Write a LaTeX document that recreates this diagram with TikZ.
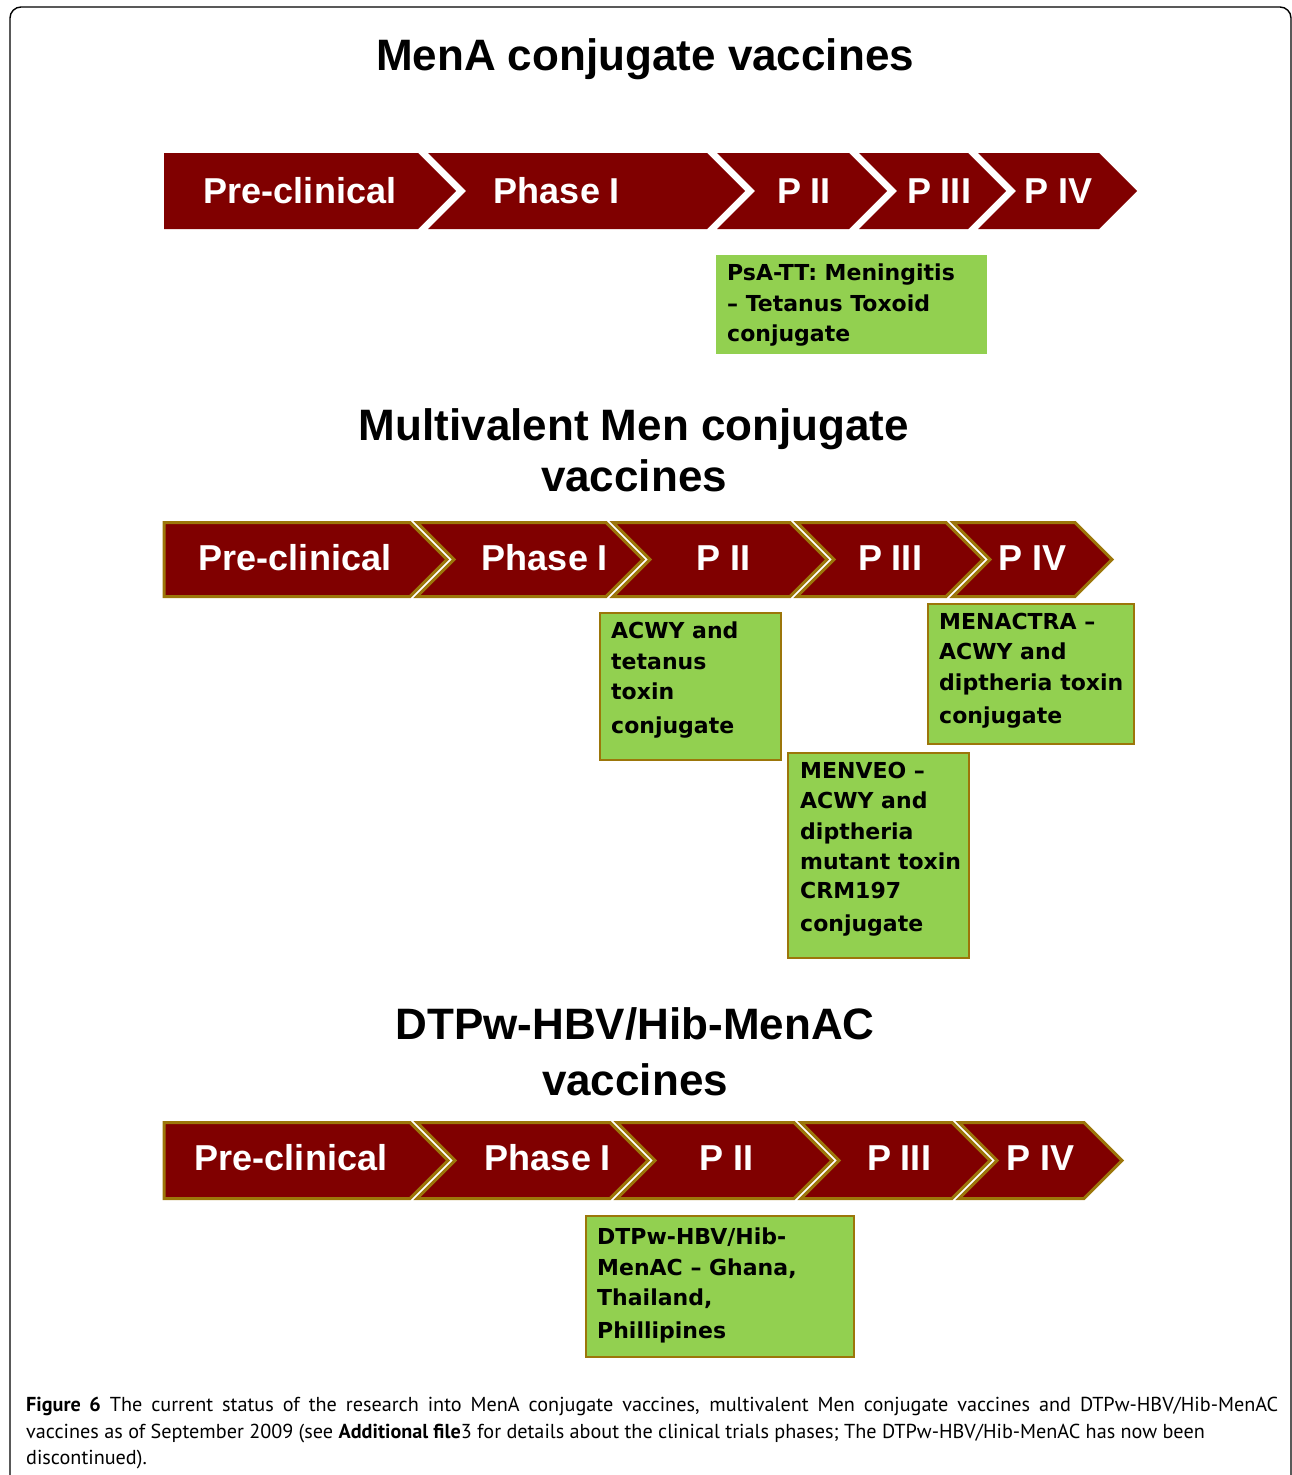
\documentclass[tikz,border=0pt]{standalone}
\usepackage{fontspec}
\usepackage{tikz}
\usetikzlibrary{positioning}
\newfontfamily\headfont{Liberation Sans}
\newfontfamily\boxfont{DejaVu Sans}
\newfontfamily\capfont{PT Sans}
\definecolor{phasered}{RGB}{128,0,0}
\definecolor{phasegold}{RGB}{156,118,10}
\definecolor{trialgreen}{RGB}{146,208,80}

\begin{document}
\begin{tikzpicture}[x=1pt,y=-1pt,
  phase/.style={fill=phasered},
  phaserim/.style={fill=phasered,draw=phasegold,line width=3pt},
  phaselbl/.style={text=white,font=\headfont\bfseries\fontsize{36}{40}\selectfont,inner sep=0pt},
  heading/.style={font=\headfont\bfseries\fontsize{44}{51}\selectfont,align=center,inner sep=0pt},
  trial/.style={fill=trialgreen,draw=phasegold,line width=1.5pt,anchor=north west,inner sep=0pt},
  trialtxt/.style={font=\boxfont\bfseries\fontsize{22}{30.5}\selectfont,align=left,inner sep=0pt}]
  \useasboundingbox (0,0) rectangle (1292,1475);
  \draw[line width=1.4pt,rounded corners=11pt] (10,1490) -- (10,7) -- (1291,7) -- (1291,1490);

  % MenA
  \node[heading] (mena) at (645,59) {MenA conjugate vaccines};
  \foreach \lft/\rgt/\nd/\lbl/\cx [count=\i] in {164/418/0/Pre-clinical/300, 428/707/38/Phase I/557,
      717/849/38/P II/804, 859/968/38/P III/939, 978/1099/38/P IV/1059}{
    \fill[phase] (\lft,153) -- (\rgt,153) -- (\rgt+38,191) -- (\rgt,229) -- (\lft,229) -- (\lft+\nd,191) -- cycle;
    \node[phaselbl] (mena\i) at (\cx,191) {\lbl};
  }
  \node[trial,draw=none,minimum width=271pt,minimum height=99pt] (psatt) at (715,254) {};
  \node[trialtxt,right=12pt of psatt.west,yshift=-1pt] (psatt-t) {PsA-TT: Meningitis\\– Tetanus Toxoid\\conjugate};

  % multivalent
  \node[heading] (multi) at (634,450) {Multivalent Men conjugate\\vaccines};
  \foreach \lft/\rgt/\nd/\lbl/\cx [count=\i] in {164/410/0/Pre-clinical/295, 417/606/37/Phase I/545,
      613/790/37/P II/724, 797/946/37/P III/890, 953/1075/37/P IV/1033}{
    \draw[phaserim] (\lft,522.5) -- (\rgt,522.5) -- (\rgt+37,559.5) -- (\rgt,596.5) -- (\lft,596.5) -- (\lft+\nd,559.5) -- cycle;
    \node[phaselbl] (multi\i) at (\cx,558) {\lbl};
  }
  \node[trial,minimum width=181pt,minimum height=147pt] (acwytt) at (599,612) {};
  \node[trialtxt,right=12pt of acwytt.west,yshift=6pt] (acwytt-t) {ACWY and\\tetanus\\toxin\\[3pt]conjugate};
  \node[trial,minimum width=206pt,minimum height=140pt] (menactra) at (927,603) {};
  \node[trialtxt,right=12pt of menactra.west,yshift=3pt] (menactra-t) {MENACTRA –\\ACWY and\\diptheria toxin\\[3pt]conjugate};
  \node[trial,minimum width=181pt,minimum height=205pt] (menveo) at (787,752) {};
  \node[trialtxt,right=13pt of menveo.west,yshift=6pt] (menveo-t) {MENVEO –\\ACWY and\\diptheria\\mutant toxin\\[-2pt]CRM197\\[3pt]conjugate};

  % DTPw-HBV/Hib-MenAC
  \node[heading] (dtpw) at (635,1052) {DTPw-HBV/Hib-MenAC\\[5pt]vaccines};
  \foreach \lft/\rgt/\nd/\lbl/\cx [count=\i] in {164/410/0/Pre-clinical/291, 417/610/38/Phase I/548,
      617/794/38/P II/727, 801/952/38/P III/899, 959/1084/38/P IV/1041}{
    \draw[phaserim] (\lft,1122.5) -- (\rgt,1122.5) -- (\rgt+38,1160.5) -- (\rgt,1198.5) -- (\lft,1198.5) -- (\lft+\nd,1160.5) -- cycle;
    \node[phaselbl] (dtpw\i) at (\cx,1158) {\lbl};
  }
  \node[trial,minimum width=268pt,minimum height=141pt] (dtpwbox) at (585,1215) {};
  \node[trialtxt,right=12pt of dtpwbox.west,yshift=1pt] (dtpwbox-t) {DTPw-HBV/Hib-\\MenAC – Ghana,\\Thailand,\\[2pt]Phillipines};

  \node[anchor=north west,inner sep=0pt,text width=1252pt,align=justify,
    font=\capfont\fontsize{20.2}{26.5}\selectfont] (caption) at (26,1397)
    {\hyphenpenalty=10000 \textbf{Figure 6} The current status of the research into MenA conjugate vaccines, multivalent Men conjugate vaccines and DTPw-HBV/Hib-MenAC\linebreak
    vaccines as of September 2009 (see \textbf{Additional file}3 for details about the clinical trials phases; The DTPw-HBV/Hib-MenAC has now been\\
    discontinued).};
\end{tikzpicture}
\end{document}
